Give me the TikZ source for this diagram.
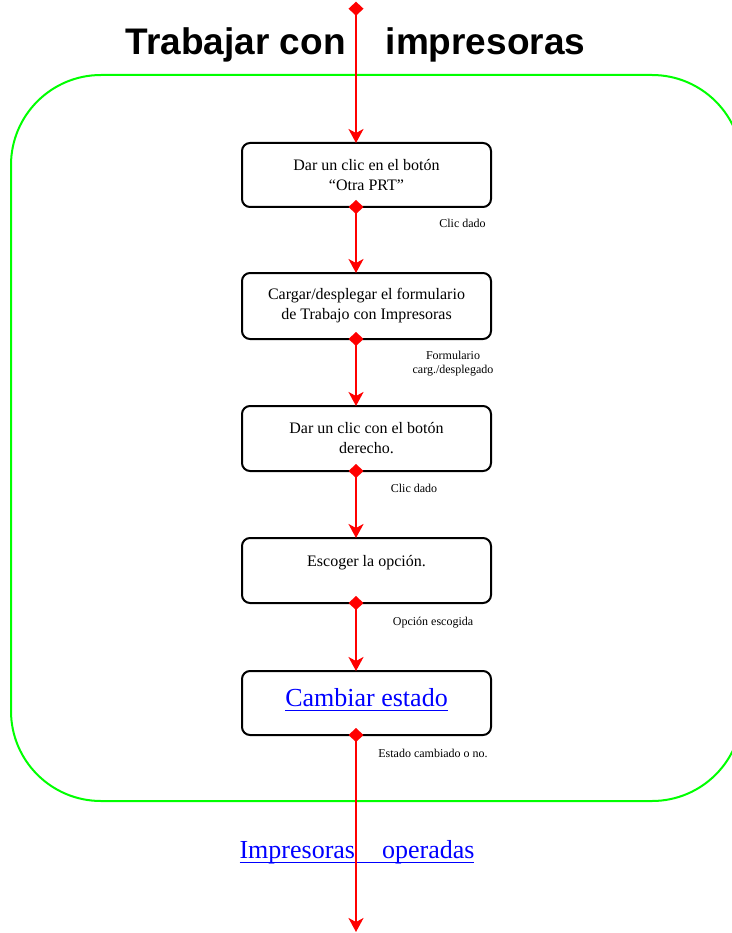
\documentclass[tikz,border=0pt]{standalone}
\usepackage{fontspec}
\setmainfont{Liberation Serif}
\newfontfamily\headfont{Liberation Sans}
\usetikzlibrary{arrows.meta}

\definecolor{flowred}{RGB}{255,0,0}
\definecolor{framegreen}{RGB}{0,255,0}
\definecolor{linkblue}{RGB}{0,0,255}

% blue hyperlink-style text with a solid underline
\newcommand{\linktext}[1]{{\color{linkblue}\setbox0\hbox{#1}\rlap{\rule[-5.1pt]{\wd0}{1.4pt}}\box0}}

\begin{document}
\begin{tikzpicture}[x=1pt,y=-1pt,
  stepbox/.style={draw, line width=2pt, rounded corners=8pt,
    minimum width=249pt, minimum height=65pt, inner sep=0pt, outer sep=0pt,
    align=center, font=\fontsize{16}{20}\selectfont},
  note/.style={inner sep=0pt, align=center, font=\fontsize{12}{14}\selectfont},
  flowtip/.tip={Stealth[length=14pt,width=15pt,inset=4pt]},
  starttip/.tip={Diamond[length=14pt,width=15pt]},
  flow/.style={draw=flowred, line width=2pt, starttip-flowtip},
  fromstep/.style={flow, shorten <=-7pt},
]
\useasboundingbox (0,0) rectangle (731,933);

% process frame
\draw[framegreen, line width=2pt, rounded corners=90pt] (11,75) rectangle (742,801);

% heading
\node[anchor=base, inner sep=0pt, font=\headfont\bfseries\fontsize{37}{44}\selectfont]
  (title) at (355.5,55) {Trabajar con\hspace{40pt}impresoras};

% steps
\node[stepbox, minimum height=64pt] (s1) at (366.5,175) {Dar un clic en el botón\\“Otra PRT”};
\node[stepbox, minimum height=66pt] (s2) at (366.5,306) {Cargar/desplegar el formulario\\de Trabajo con Impresoras};
\node[stepbox] (s3) at (366.5,438.5) {Dar un clic con el botón\\derecho.};
\node[stepbox] (s4) at (366.5,570.5) {Escoger la opción.\\\mbox{}};
\node[stepbox, minimum height=64pt, text depth=12pt] (s5) at (366.5,703)
  {\fontsize{26}{30}\selectfont\linktext{Cambiar estado}};

% step results
\node[note, anchor=base] (n1) at (462.5,228) {Clic dado};
\node[note, anchor=base] (n2) at (453,373) {Formulario\\carg./desplegado};
\node[note, anchor=base] (n3) at (414,492) {Clic dado};
\node[note, anchor=base] (n4) at (433,625) {Opción escogida};
\node[note, anchor=base] (n5) at (433,757) {Estado cambiado o no.};

% output
\node[anchor=base, inner sep=0pt, font=\fontsize{26}{30}\selectfont]
  (result) at (357,858) {\linktext{Impresoras\hspace{27pt}operadas}};

% flow line
\coordinate (src) at (356,1.7);
\coordinate (sink) at (356,932);
\draw[flow] (src) -- (s1.north -| src);
\draw[fromstep] (s1.south -| src) -- (s2.north -| src);
\draw[fromstep] (s2.south -| src) -- (s3.north -| src);
\draw[fromstep] (s3.south -| src) -- (s4.north -| src);
\draw[fromstep] (s4.south -| src) -- (s5.north -| src);
\draw[fromstep] (s5.south -| src) -- (sink);
\end{tikzpicture}
\end{document}
